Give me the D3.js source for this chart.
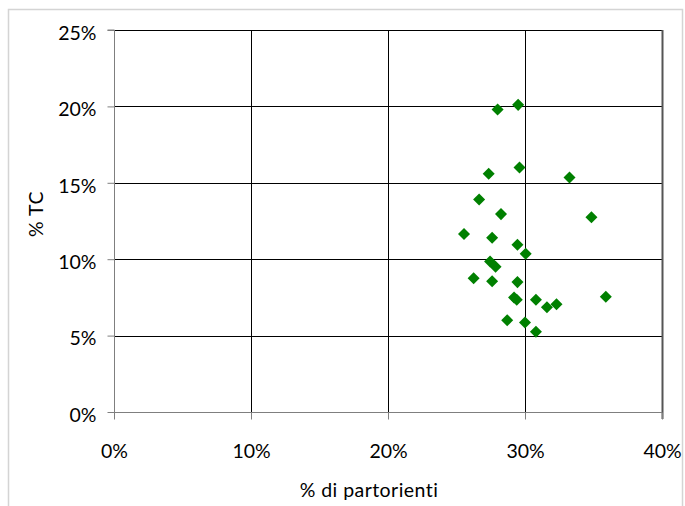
<!DOCTYPE html>
<html>
<head>
<meta charset="utf-8">
<script src="https://cdn.jsdelivr.net/npm/d3@7"></script>
<style>
  html, body { margin: 0; padding: 0; background: #fff; }
  svg { display: block; }
  text { font-family: Lato, "Open Sans", sans-serif; fill: #000; }
</style>
</head>
<body>
<svg id="chart" width="685" height="506"></svg>
<script>
// Share of births (x) vs. share of TC (y), one point per unit
const partorienti = [28.0, 29.5, 27.35, 29.6, 33.25, 26.65, 28.25, 34.85, 25.55, 27.6, 29.45, 30.05, 27.45, 27.85, 26.25, 27.6, 29.45, 29.2, 29.4, 30.8, 31.6, 32.3, 35.9, 28.7, 30.0, 30.8];
const tc          = [19.8, 20.1, 15.6, 16.0, 15.35, 13.9, 12.95, 12.75, 11.65, 11.4, 10.95, 10.35, 9.85, 9.5, 8.75, 8.55, 8.5, 7.5, 7.35, 7.35, 6.85, 7.05, 7.55, 6.0, 5.85, 5.25];
const xTicks = [0, 10, 20, 30, 40];
const yTicks = [0, 5, 10, 15, 20, 25];
const xTitle = "% di partorienti";
const yTitle = "% TC";

const FONT = "19.5px";
const svg = d3.select("#chart");

// outer chart frame
svg.append("rect")
  .attr("x", 8.5).attr("y", 9.5)
  .attr("width", 674).attr("height", 520)
  .attr("fill", "none").attr("stroke", "#d4d4d4").attr("stroke-width", 1.5);

const plotL = 114, plotR = 662, plotT = 30, plotB = 412;
const x = d3.scaleLinear().domain([0, 40]).range([plotL, plotR]);
const y = d3.scaleLinear().domain([0, 25]).range([plotB, plotT]);

// gridlines
const grid = svg.append("g");
grid.selectAll("line.h").data(yTicks.filter(d => d > 0)).join("line")
  .attr("x1", plotL).attr("x2", plotR)
  .attr("y1", d => Math.round(y(d)) + 0.5).attr("y2", d => Math.round(y(d)) + 0.5)
  .attr("stroke", "#000").attr("stroke-width", 1);
grid.selectAll("line.v").data(xTicks.filter(d => d > 0 && d < 40)).join("line")
  .attr("x1", d => Math.round(x(d)) + 0.5).attr("x2", d => Math.round(x(d)) + 0.5)
  .attr("y1", plotT).attr("y2", plotB)
  .attr("stroke", "#000").attr("stroke-width", 1);

// right edge of the plot area
svg.append("line")
  .attr("x1", plotR + 0.5).attr("x2", plotR + 0.5)
  .attr("y1", plotT).attr("y2", plotB + 7)
  .attr("stroke", "#555").attr("stroke-width", 2);

// axes
const yAxis = d3.axisLeft(y).tickValues(yTicks).tickSize(7).tickPadding(11).tickFormat(d => d + "%");
const xAxis = d3.axisBottom(x).tickValues(xTicks).tickSize(7).tickPadding(25).tickFormat(d => d + "%");

const gy = svg.append("g").attr("transform", `translate(${plotL + 0.5},0)`).call(yAxis);
const gx = svg.append("g").attr("transform", `translate(0,${plotB + 0.5})`).call(xAxis);

[gy, gx].forEach(g => {
  g.select(".domain").attr("stroke", "#7f7f7f");
  g.selectAll(".tick line").attr("stroke", "#7f7f7f");
  g.selectAll(".tick text").style("font-size", FONT).style("font-family", "Lato, 'Open Sans', sans-serif");
});
gy.selectAll(".tick text").attr("dy", "0.48em");
gy.select(".domain").attr("d", `M-7,${plotT}H0V${plotB}`);
gx.select(".domain").attr("d", `M${plotL},0H${plotR}`);

// points
const diamond = d3.symbol().type(d3.symbolDiamond2).size(92);
svg.append("g").selectAll("path").data(partorienti.map((v, i) => [v, tc[i]])).join("path")
  .attr("d", diamond)
  .attr("transform", d => `translate(${x(d[0])},${y(d[1])})`)
  .attr("fill", "#008000");

// axis titles
svg.append("text")
  .attr("x", 369).attr("y", 497)
  .attr("text-anchor", "middle").style("font-size", FONT).style("letter-spacing", "0.45px")
  .text(xTitle);
svg.append("text")
  .attr("transform", `translate(43,214) rotate(-90)`)
  .attr("text-anchor", "middle").style("font-size", FONT).style("letter-spacing", "0.45px")
  .text(yTitle);
</script>
</body>
</html>
